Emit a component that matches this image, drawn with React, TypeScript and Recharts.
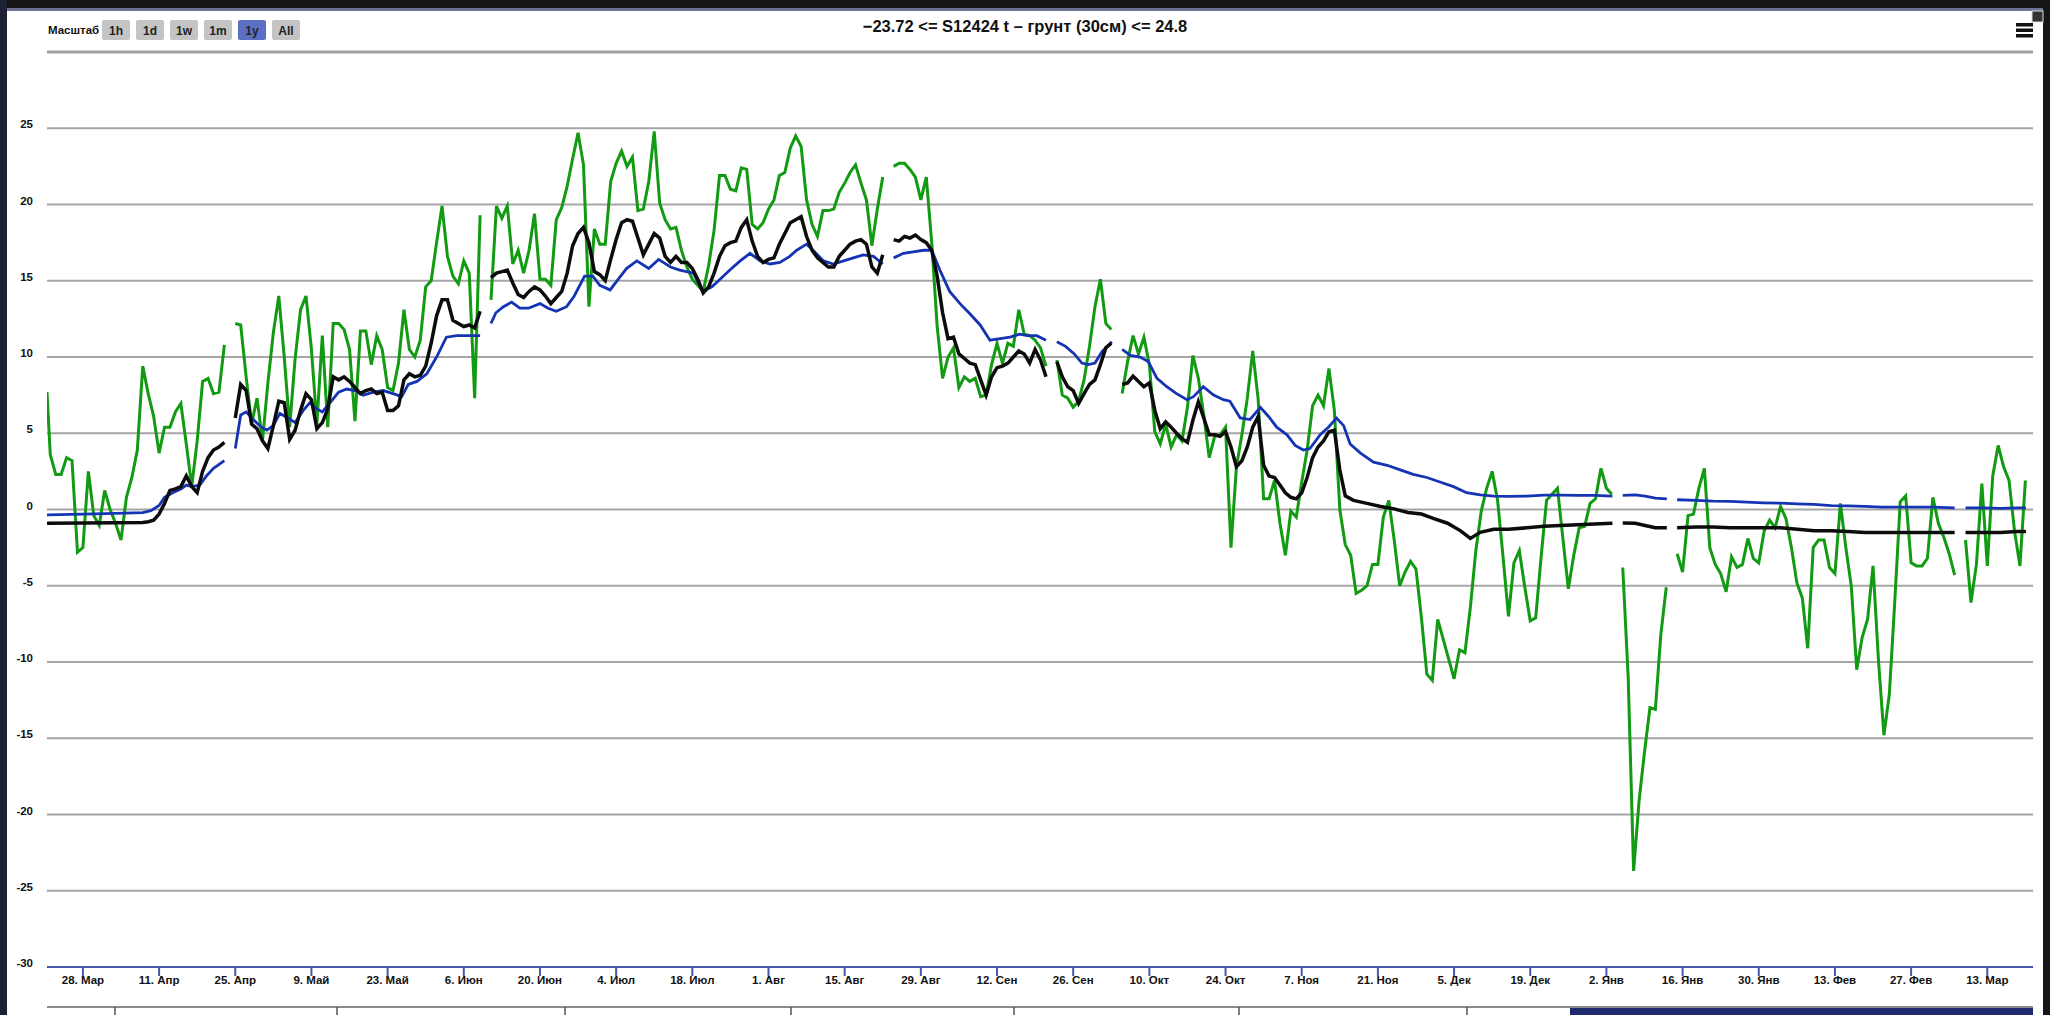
import React from "react";
import { LineChart, Line, XAxis, YAxis, CartesianGrid, ReferenceLine } from "recharts";

// x = days since 28 March
const tickDays = [0, 14, 28, 42, 56, 70, 84, 98, 112, 126, 140, 154, 168, 182, 196, 210, 224, 238, 252, 266, 280, 294, 308, 322, 336, 350];
const tickLabels = ["28. Мар", "11. Апр", "25. Апр", "9. Май", "23. Май", "6. Июн", "20. Июн", "4. Июл", "18. Июл", "1. Авг", "15. Авг", "29. Авг", "12. Сен", "26. Сен", "10. Окт", "24. Окт", "7. Ноя", "21. Ноя", "5. Дек", "19. Дек", "2. Янв", "16. Янв", "30. Янв", "13. Фев", "27. Фев", "13. Мар"];
const yTicks = [-30, -25, -20, -15, -10, -5, 0, 5, 10, 15, 20, 25, 30];
const scaleButtons = ["1h", "1d", "1w", "1m", "1y", "All"];
const titleText = "−23.72 <= S12424 t – грунт (30см) <= 24.8";
const navigatorDividers = [115, 337, 565, 791, 1014, 1239, 1467];

type P = [number, number | null];

const greenSeries: P[] = [
  [-6.6, 7.7], [-6, 3.6], [-5, 2.3], [-4, 2.3], [-3, 3.4], [-2, 3.2], [-1, -2.8], [0, -2.5], [1, 2.5], [2, -0.4],
  [3, -1.05], [4, 1.25], [5, 0], [6, -0.9], [7, -2.0], [8, 0.8], [9, 2.1], [10, 3.9], [11, 9.4], [12, 7.6],
  [13, 6.1], [14, 3.7], [15, 5.4], [16, 5.4], [17, 6.4], [18, 6.95], [19, 4.3], [20, 1.5], [21, 4.5], [22, 8.4],
  [23, 8.6], [24, 7.6], [25, 7.7], [26, 10.8], [27, null], [28, 12.2], [29, 12.1], [30, 8.7], [31, 5.6], [32, 7.3],
  [33, 4.5], [34, 8.3], [35, 11.6], [36, 14.0], [37, 10.0], [38, 5.4], [39, 9.9], [40, 13.1], [41, 14.0], [42, 10.5],
  [43, 5.6], [44, 11.4], [45, 5.4], [46, 12.2], [47, 12.2], [48, 11.8], [49, 10.5], [50, 5.8], [51, 11.7], [52, 11.7],
  [53, 9.5], [54, 11.4], [55, 10.5], [56, 8.0], [57, 7.8], [58, 9.6], [59, 13.1], [60, 10.5], [61, 10.0], [62, 11.1],
  [63, 14.6], [64, 15.0], [65, 17.5], [66, 19.9], [67, 16.6], [68, 15.3], [69, 14.8], [70, 16.3], [71, 15.5], [72, 7.3],
  [73, 19.3], [74, null], [75, 13.75], [76, 19.9], [77, 19.1], [78, 19.9], [79, 16.1], [80, 17.0], [81, 15.5], [82, 17.0],
  [83, 19.4], [84, 15.1], [85, 15.1], [86, 14.7], [87, 19.0], [88, 19.8], [89, 21.2], [90, 23.0], [91, 24.7], [92, 22.6],
  [93, 13.3], [94, 18.4], [95, 17.4], [96, 17.4], [97, 21.5], [98, 22.7], [99, 23.5], [100, 22.5], [101, 23.1], [102, 19.6],
  [103, 19.7], [104, 21.5], [105, 24.8], [106, 20.1], [107, 19.0], [108, 18.4], [109, 18.5], [110, 17.0], [111, 15.9], [112, 15.1],
  [113, 14.7], [114, 14.3], [115, 16.0], [116, 18.3], [117, 21.9], [118, 21.9], [119, 21.0], [120, 20.9], [121, 22.4], [122, 22.3],
  [123, 18.7], [124, 18.4], [125, 18.8], [126, 19.7], [127, 20.3], [128, 21.9], [129, 22.1], [130, 23.7], [131, 24.5], [132, 23.8],
  [133, 20.3], [134, 18.7], [135, 17.9], [136, 19.6], [137, 19.6], [138, 19.7], [139, 20.8], [140, 21.4], [141, 22.1], [142, 22.6],
  [143, 21.4], [144, 20.3], [145, 17.3], [146, 19.7], [147, 21.8], [148, null], [149, 22.5], [150, 22.7], [151, 22.7], [152, 22.3],
  [153, 21.8], [154, 20.3], [155, 21.8], [156, 17.5], [157, 12.0], [158, 8.6], [159, 10.0], [160, 10.6], [161, 8.0], [162, 8.7],
  [163, 8.4], [164, 8.6], [165, 7.4], [166, 7.5], [167, 9.5], [168, 10.9], [169, 9.6], [170, 10.9], [171, 10.7], [172, 13.1],
  [173, 11.5], [174, 11.4], [175, 11.1], [176, 10.6], [177, 9.4], [178, null], [179, 9.8], [180, 7.5], [181, 7.3], [182, 6.7],
  [183, 7.1], [184, 8.5], [185, 10.7], [186, 13.3], [187, 15.1], [188, 12.2], [189, 11.8], [190, null], [191, 7.6], [192, 9.7],
  [193, 11.4], [194, 10.2], [195, 11.3], [196, 9.5], [197, 5.1], [198, 4.3], [199, 5.6], [200, 4.1], [201, 4.9], [202, 4.5],
  [203, 6.7], [204, 10.1], [205, 8.6], [206, 6.2], [207, 3.4], [208, 4.8], [209, 4.9], [210, 5.4], [211, -2.5], [212, 2.8],
  [213, 4.9], [214, 7.3], [215, 10.4], [216, 7.2], [217, 0.7], [218, 0.7], [219, 1.9], [220, -0.9], [221, -3.0], [222, -0.1],
  [223, -0.5], [224, 1.8], [225, 3.9], [226, 6.8], [227, 7.5], [228, 6.8], [229, 9.25], [230, 6.5], [231, 0.0], [232, -2.3],
  [233, -3.0], [234, -5.5], [235, -5.3], [236, -5.0], [237, -3.6], [238, -3.6], [239, -0.5], [240, 0.6], [241, -2.0], [242, -5.0],
  [243, -4.1], [244, -3.4], [245, -3.9], [246, -7.1], [247, -10.8], [248, -11.2], [249, -7.2], [250, -8.5], [251, -9.8], [252, -11.1],
  [253, -9.2], [254, -9.4], [255, -6.4], [256, -2.7], [257, -0.1], [258, 1.4], [259, 2.5], [260, 0.6], [261, -3.1], [262, -7.0],
  [263, -3.5], [264, -2.7], [265, -5.1], [266, -7.3], [267, -7.1], [268, -3.1], [269, 0.6], [270, 1.0], [271, 1.4], [272, -1.9],
  [273, -5.2], [274, -3.0], [275, -1.2], [276, -1.1], [277, 0.4], [278, 0.7], [279, 2.7], [280, 1.4], [281, 1.0], [282, null],
  [283, -3.8], [284, -11.0], [285, -23.7], [286, -19.1], [287, -15.9], [288, -13.0], [289, -13.1], [290, -8.2], [291, -5.1], [292, null],
  [293, -2.9], [294, -4.1], [295, -0.4], [296, -0.3], [297, 1.4], [298, 2.7], [299, -2.5], [300, -3.6], [301, -4.2], [302, -5.4],
  [303, -3.1], [304, -3.8], [305, -3.6], [306, -1.9], [307, -3.2], [308, -3.5], [309, -1.4], [310, -0.7], [311, -1.2], [312, 0.2],
  [313, -0.6], [314, -2.5], [315, -4.8], [316, -5.8], [317, -9.1], [318, -2.5], [319, -2.0], [320, -2.0], [321, -3.8], [322, -4.2],
  [323, 0.4], [324, -2.5], [325, -5.0], [326, -10.5], [327, -8.4], [328, -7.2], [329, -3.7], [330, -9.9], [331, -14.8], [332, -12.1],
  [333, -6.0], [334, 0.5], [335, 0.9], [336, -3.5], [337, -3.7], [338, -3.7], [339, -3.2], [340, 0.8], [341, -0.9], [342, -1.8],
  [343, -2.9], [344, -4.3], [345, null], [346, -2.0], [347, -6.1], [348, -3.6], [349, 1.7], [350, -3.7], [351, 2.2], [352, 4.2],
  [353, 2.8], [354, 1.9], [355, -1.4], [356, -3.7], [357, 1.9],
];

const blackSeries: P[] = [
  [-6.6, -0.9], [0, -0.88], [6, -0.87], [11, -0.85], [12, -0.8], [13, -0.7], [14, -0.3], [15, 0.4], [16, 1.25], [17, 1.35],
  [18, 1.5], [19, 2.2], [20, 1.5], [21, 1.1], [22, 2.5], [23, 3.4], [24, 3.9], [25, 4.1], [26, 4.4], [27, null],
  [28, 6.0], [29, 8.2], [30, 7.8], [31, 5.6], [32, 5.3], [33, 4.5], [34, 4.0], [35, 5.5], [36, 7.1], [37, 7.0],
  [38, 4.6], [39, 5.2], [40, 6.5], [41, 7.6], [42, 7.2], [43, 5.3], [44, 5.7], [45, 6.6], [46, 8.7], [47, 8.5],
  [48, 8.7], [49, 8.4], [50, 8.0], [51, 7.6], [52, 7.8], [53, 7.9], [54, 7.6], [55, 7.7], [56, 6.5], [57, 6.5],
  [58, 6.8], [59, 8.5], [60, 8.9], [61, 8.7], [62, 8.8], [63, 9.4], [64, 10.9], [65, 12.7], [66, 13.75], [67, 13.75],
  [68, 12.4], [69, 12.2], [70, 12.0], [71, 12.1], [72, 11.9], [73, 13.0], [74, null], [75, 15.2], [76, 15.5], [77, 15.6],
  [78, 15.7], [79, 14.85], [80, 14.1], [81, 13.9], [82, 14.3], [83, 14.6], [84, 14.4], [85, 14.0], [86, 13.5], [87, 13.9],
  [88, 14.3], [89, 15.5], [90, 17.3], [91, 18.1], [92, 18.5], [93, 17.5], [94, 15.6], [95, 15.4], [96, 15.0], [97, 16.4],
  [98, 17.7], [99, 18.8], [100, 19.0], [101, 18.9], [102, 17.8], [103, 16.7], [104, 17.4], [105, 18.1], [106, 17.8], [107, 16.6],
  [108, 16.2], [109, 16.6], [110, 16.2], [111, 16.2], [112, 15.8], [113, 15.1], [114, 14.2], [115, 14.6], [116, 15.5], [117, 16.6],
  [118, 17.3], [119, 17.5], [120, 17.6], [121, 18.5], [122, 19.0], [123, 17.6], [124, 16.6], [125, 16.2], [126, 16.4], [127, 16.5],
  [128, 17.4], [129, 18.1], [130, 18.8], [131, 19.0], [132, 19.2], [133, 17.9], [134, 17.0], [135, 16.5], [136, 16.2], [137, 15.9],
  [138, 15.9], [139, 16.6], [140, 17.0], [141, 17.4], [142, 17.6], [143, 17.7], [144, 17.4], [145, 15.9], [146, 15.5], [147, 16.7],
  [148, null], [149, 17.7], [150, 17.6], [151, 17.9], [152, 17.8], [153, 18.0], [154, 17.7], [155, 17.5], [156, 17.0], [157, 15.3],
  [158, 12.9], [159, 11.2], [160, 11.3], [161, 10.2], [162, 9.9], [163, 9.6], [164, 9.5], [165, 8.5], [166, 7.5], [167, 8.7],
  [168, 9.3], [169, 9.4], [170, 9.6], [171, 10.0], [172, 10.4], [173, 10.2], [174, 9.6], [175, 10.5], [176, 9.8], [177, 8.7],
  [178, null], [179, 9.7], [180, 8.7], [181, 8.05], [182, 7.8], [183, 6.95], [184, 7.6], [185, 8.2], [186, 8.5], [187, 9.5],
  [188, 10.6], [189, 10.9], [190, null], [191, 8.2], [192, 8.3], [193, 8.75], [194, 8.4], [195, 8.05], [196, 8.3], [197, 6.5],
  [198, 5.3], [199, 5.75], [200, 5.4], [201, 5.0], [202, 4.65], [203, 4.4], [204, 5.85], [205, 7.06], [206, 6.0], [207, 4.9],
  [208, 4.9], [209, 4.8], [210, 5.1], [211, 4.1], [212, 2.8], [213, 3.2], [214, 4.1], [215, 5.4], [216, 6.1], [217, 2.9],
  [218, 2.2], [219, 2.1], [220, 1.6], [221, 1.1], [222, 0.8], [223, 0.7], [224, 1.1], [225, 2.1], [226, 3.4], [227, 4.1],
  [228, 4.5], [229, 5.1], [230, 5.2], [231, 2.6], [232, 0.9], [233.5, 0.6], [236, 0.4], [238.5, 0.2], [241, 0.04], [243.5, -0.2],
  [246, -0.3], [248.3, -0.6], [250.8, -0.9], [253.2, -1.4], [255, -1.9], [256.8, -1.5], [259.3, -1.3], [262, -1.3], [265.4, -1.2], [268.5, -1.1],
  [271.6, -1.05], [274.7, -1.0], [277.8, -0.95], [281.1, -0.9], [282, null], [283, -0.88], [285.3, -0.9], [287.1, -1.05], [289, -1.2], [291.1, -1.2],
  [292, null], [293, -1.2], [296.5, -1.15], [299.6, -1.15], [302.7, -1.2], [305.8, -1.2], [308.9, -1.2], [312, -1.2], [315.1, -1.3], [318.2, -1.4],
  [321.3, -1.4], [324.4, -1.45], [327.5, -1.5], [330.6, -1.5], [333.7, -1.5], [336.8, -1.5], [339.9, -1.5], [344, -1.5], [345, null], [346, -1.5],
  [349.3, -1.5], [352.4, -1.5], [355.5, -1.45], [357.1, -1.45],
];

const blueSeries: P[] = [
  [-6.6, -0.35], [0, -0.3], [6, -0.25], [11, -0.2], [12.5, -0.07], [14, 0.26], [15, 0.8], [16.5, 1.1], [18, 1.35], [19, 1.6],
  [20, 1.5], [21.5, 1.6], [22.7, 2.2], [24, 2.7], [26, 3.2], [27, null], [28, 4.0], [29, 6.2], [30, 6.4], [31.3, 5.9],
  [32.8, 5.4], [33.8, 5.2], [35, 5.5], [36.2, 6.3], [37.7, 6.0], [39, 5.7], [40.5, 6.5], [41.7, 7.0], [43, 6.6], [44, 6.4],
  [45.4, 7.0], [47, 7.7], [48.5, 7.9], [50, 7.8], [51.5, 7.5], [53.4, 7.7], [55.2, 7.8], [57, 7.6], [58.6, 7.4], [59.8, 8.2],
  [61.4, 8.4], [63.2, 8.9], [65, 10.0], [66.8, 11.3], [68.7, 11.4], [73, 11.4], [74, null], [75, 12.2], [75.9, 12.9], [77.3, 13.3],
  [78.8, 13.6], [80.3, 13.2], [81.9, 13.2], [84, 13.5], [85.5, 13.2], [87, 13.0], [88.9, 13.3], [90.3, 14.0], [92.2, 15.3], [93.7, 15.3],
  [95, 14.7], [96.9, 14.4], [98.4, 15.1], [99.9, 15.8], [101.8, 16.3], [104, 15.8], [105.8, 16.4], [108, 15.9], [109.7, 15.7], [112.2, 15.5],
  [113.9, 14.3], [115.6, 14.6], [117.1, 15.1], [118.9, 15.7], [120.8, 16.3], [122.6, 16.8], [124.5, 16.3], [126.3, 16.1], [128.1, 16.2], [129.9, 16.6],
  [131.2, 17.0], [133, 17.4], [134.2, 17.0], [136.1, 16.3], [137.9, 16.1], [139.8, 16.3], [141.6, 16.5], [143.4, 16.7], [145.3, 16.6], [147, 16.1],
  [148, null], [149, 16.5], [150.8, 16.8], [152.6, 16.9], [154.5, 17.0], [156, 17.0], [157.5, 15.7], [159.3, 14.3], [161.2, 13.5], [163.1, 12.8],
  [164.9, 12.1], [166.7, 11.1], [168.6, 11.2], [170.4, 11.3], [172.2, 11.5], [173.5, 11.4], [175.3, 11.4], [177, 11.1], [178, null], [179, 11.0],
  [180.6, 10.7], [182.2, 10.2], [183.6, 9.6], [184.8, 9.5], [186, 9.6], [187.3, 10.35], [189.1, 11.0], [190, null], [191, 10.5], [192.5, 10.1],
  [194.3, 10.0], [195.8, 9.7], [197.4, 8.6], [199.2, 8.05], [201, 7.6], [202.9, 7.2], [204.1, 7.4], [205.9, 8.05], [207.8, 7.5], [209.6, 7.2],
  [210.8, 7.1], [212.7, 6.0], [214.5, 5.9], [216.4, 6.7], [217.9, 6.1], [219.4, 5.4], [221.3, 4.9], [222.8, 4.2], [224.3, 3.9], [225.5, 4.0],
  [227.4, 4.9], [228.9, 5.4], [230.4, 6.0], [231.7, 5.5], [232.9, 4.3], [234.8, 3.7], [237.2, 3.1], [239.7, 2.9], [242.1, 2.6], [244.5, 2.3],
  [247, 2.1], [249.4, 1.8], [251.9, 1.5], [254.3, 1.1], [256.8, 0.96], [259.3, 0.88], [262, 0.86], [265.4, 0.88], [268.5, 0.94], [271.6, 0.94],
  [274.7, 0.92], [277.8, 0.92], [281.1, 0.88], [282, null], [283, 0.92], [285.3, 0.96], [287.1, 0.88], [289, 0.75], [291.1, 0.7], [292, null],
  [293, 0.64], [296.5, 0.6], [299.6, 0.55], [302.7, 0.53], [305.8, 0.48], [308.9, 0.44], [312, 0.42], [315.1, 0.37], [318.2, 0.33], [321.3, 0.26],
  [324.4, 0.24], [327.5, 0.2], [330.6, 0.15], [333.7, 0.15], [336.8, 0.15], [339.9, 0.15], [344, 0.11], [345, null], [346, 0.11], [349.3, 0.11],
  [352.4, 0.07], [355.5, 0.11], [357.1, 0.11],
];

const toPoints = (arr: P[]) => arr.map(([d, v]) => ({ d, v }));
const greenData = toPoints(greenSeries);
const blackData = toPoints(blackSeries);
const blueData = toPoints(blueSeries);

const FONT = "'Liberation Sans', Arial, sans-serif";

const YTick = (props: any) => {
  const { y, payload } = props;
  if (payload.value === 30) return <g />;
  return (
    <text x={33} y={y - 4} textAnchor="end" dominantBaseline="central" fontSize={11.5} fontWeight="bold" fontFamily={FONT} fill="#111">
      {payload.value}
    </text>
  );
};

const XTick = (props: any) => {
  const { x, payload } = props;
  const i = tickDays.indexOf(payload.value);
  return (
    <text x={x} y={984} textAnchor="middle" fontSize={11.5} fontWeight="bold" fontFamily={FONT} fill="#111">
      {i >= 0 ? tickLabels[i] : ""}
    </text>
  );
};

export default function App() {
  return (
    <div style={{ position: "absolute", left: 0, top: 0, width: 2050, height: 1015, background: "#ffffff", overflow: "hidden" }}>
      <style>{"body{margin:0}"}</style>
      {/* window frame */}
      <div style={{ position: "absolute", left: 0, top: 0, width: 2050, height: 8, background: "#151518" }} />
      <div style={{ position: "absolute", left: 0, top: 8, width: 2050, height: 3, background: "#6e7296" }} />
      <div style={{ position: "absolute", left: 0, top: 0, width: 7, height: 1015, background: "#1c2233" }} />
      <div style={{ position: "absolute", left: 2043, top: 0, width: 7, height: 1015, background: "#151518" }} />
      <div style={{ position: "absolute", left: 0, top: 0 }}>
        <LineChart width={2050} height={1015} margin={{ top: 52, right: 17, bottom: 0, left: 0 }}>
          <CartesianGrid horizontal vertical={false} stroke="#a6a6a6" strokeWidth={2} />
          <XAxis
            dataKey="d"
            type="number"
            domain={[-6.6, 358.4]}
            ticks={tickDays}
            allowDataOverflow
            height={48}
            axisLine={{ stroke: "#4557b0", strokeWidth: 2 }}
            tickLine={{ stroke: "#4557b0", strokeWidth: 2 }}
            tickSize={9}
            tick={<XTick />}
            interval={0}
          />
          <YAxis
            type="number"
            domain={[-30, 30]}
            ticks={yTicks}
            width={47}
            axisLine={false}
            tickLine={false}
            tick={<YTick />}
            interval={0}
          />
          <ReferenceLine y={30} stroke="#a0a0a0" strokeWidth={3} />
          <Line data={greenData} dataKey="v" type="linear" stroke="#129a12" strokeWidth={3} dot={false} isAnimationActive={false} />
          <Line data={blueData} dataKey="v" type="linear" stroke="#1434b4" strokeWidth={2.8} dot={false} isAnimationActive={false} />
          <Line data={blackData} dataKey="v" type="linear" stroke="#0c0c0c" strokeWidth={3.5} dot={false} isAnimationActive={false} />
        </LineChart>
      </div>
      <svg width={2050} height={1015} style={{ position: "absolute", left: 0, top: 0, pointerEvents: "none" }}>
        <text x={1025} y={32} textAnchor="middle" fontSize={16.5} fontWeight="bold" fontFamily={FONT} fill="#111">
          {titleText}
        </text>
        <text x={48} y={34} fontSize={11.5} fontWeight="bold" fontFamily={FONT} fill="#111">Масштаб</text>
        {scaleButtons.map((b, i) => {
          const x = 102 + i * 34;
          const active = b === "1y";
          return (
            <g key={b}>
              <rect x={x} y={20} width={28} height={20} rx={2} fill={active ? "#5b6fc4" : "#c4c4c4"} />
              <text x={x + 14} y={35} textAnchor="middle" fontSize={12} fontWeight="bold" fontFamily={FONT} fill="#222">{b}</text>
            </g>
          );
        })}
        {/* menu icon */}
        <rect x={2016} y={23} width={17} height={3.5} fill="#111" />
        <rect x={2016} y={28.5} width={17} height={3.5} fill="#111" />
        <rect x={2016} y={34} width={17} height={3.5} fill="#111" />
        <rect x={2032} y={11} width={11} height={11} fill="#333" stroke="#ddd" strokeWidth={1} />
        {/* navigator strip */}
        <line x1={47} y1={1007} x2={2033} y2={1007} stroke="#8a8a8a" strokeWidth={2} />
        {navigatorDividers.map((x) => (
          <line key={x} x1={x} y1={1007} x2={x} y2={1015} stroke="#555" strokeWidth={1.5} />
        ))}
        <rect x={1570} y={1008} width={463} height={7} fill="#1f2a6e" />
      </svg>
    </div>
  );
}
